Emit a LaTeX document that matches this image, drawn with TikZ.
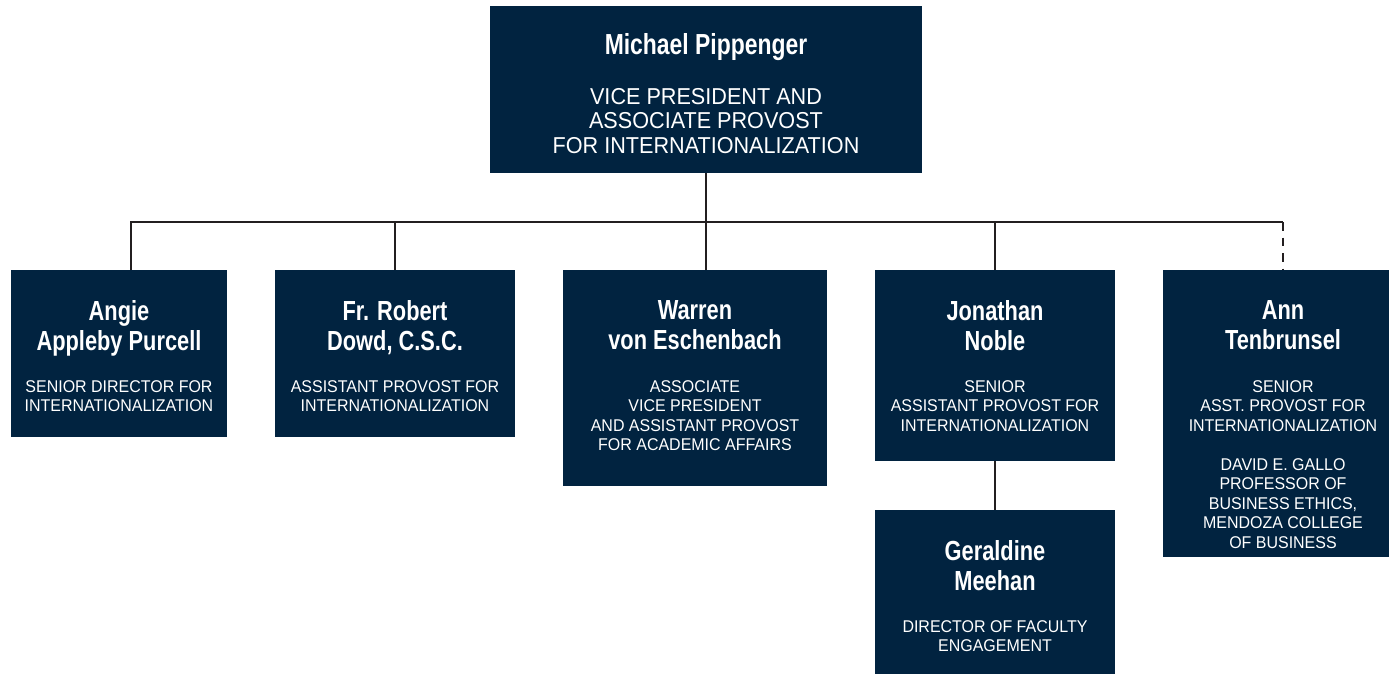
\documentclass[tikz,border=0pt]{standalone}
\usepackage{fontspec}
\setmainfont{Liberation Sans}
\newfontfamily\namefont[FakeStretch=0.79]{Liberation Sans Bold}
\newfontfamily\rolefont[FakeStretch=0.94]{Liberation Sans}
\usepackage{tikz}
\usetikzlibrary{positioning}
\definecolor{navy}{HTML}{012340}
\definecolor{wire}{HTML}{231F20}
\tikzstyle{box} = [rectangle, fill=navy, inner sep=0pt, outer sep=0pt, anchor=north west, minimum height=83.5pt]
\tikzstyle{nametext} = [anchor=north, inner sep=0pt, text=white, align=center, font=\namefont\fontsize{13.8pt}{15pt}\selectfont]
\tikzstyle{roletext} = [anchor=north, inner sep=0pt, text=white, align=center, font=\rolefont\fontsize{8.5pt}{9.7pt}\selectfont]
\tikzstyle{link} = [draw=wire, line width=1.2pt]

\begin{document}
\begin{tikzpicture}[x=0.5pt, y=-0.5pt, node distance=24pt]
    \useasboundingbox (0,0) rectangle (1389,675);
    \node (top) [box, minimum width=216pt] at (490,6) {};
    \node (angie) [box, minimum width=108pt] at (11,270) {};
    \node (robert) [box, minimum width=120pt, right=of angie.north east, anchor=north west] {};
    \node (warren) [box, minimum width=132pt, minimum height=108pt, right=of robert.north east, anchor=north west] {};
    \node (jonathan) [box, minimum width=120pt, minimum height=95.5pt, right=of warren.north east, anchor=north west] {};
    \node (ann) [box, minimum width=113pt, minimum height=143.5pt, right=of jonathan.north east, anchor=north west] {};
    \node (geraldine) [box, minimum width=120pt, minimum height=82pt, below=24.5pt of jonathan.south, anchor=north] {};
    \coordinate[below=24.5pt of top.south] (bus);
    \coordinate (annbus) at ([xshift=3.5pt]ann.north |- bus);

    \draw [link] (top) -- (bus);
    \draw [link] ([xshift=6pt]angie.north) |- (annbus);
    \draw [link] (robert) -- (robert.north |- bus);
    \draw [link] (warren.north -| bus) -- (bus);
    \draw [link] (jonathan) -- (jonathan.north |- bus);
    \draw [link, dash pattern=on 4.25pt off 3.5pt] (annbus) -- ([xshift=3.5pt]ann.north);
    \draw [link] (jonathan) -- (geraldine);

    \node (topname) [nametext, font=\namefont\fontsize{14.5pt}{16pt}\selectfont] at ([yshift=-13.5pt]top.north) {Michael Pippenger};
    \node (toprole) [roletext, font=\rolefont\fontsize{11.5pt}{12.25pt}\selectfont] at ([yshift=-41pt]top.north) {VICE PRESIDENT AND\\ASSOCIATE PROVOST\\FOR INTERNATIONALIZATION};
    \node (angiename) [nametext] at ([yshift=-15pt]angie.north) {Angie\\Appleby Purcell};
    \node (angierole) [roletext] at ([yshift=-55pt]angie.north) {SENIOR DIRECTOR FOR\\INTERNATIONALIZATION};
    \node (robertname) [nametext] at ([yshift=-15pt]robert.north) {Fr. Robert\\Dowd, C.S.C.};
    \node (robertrole) [roletext] at ([yshift=-55pt]robert.north) {ASSISTANT PROVOST FOR\\INTERNATIONALIZATION};
    \node (warrenname) [nametext] at ([yshift=-15pt]warren.north) {Warren\\von Eschenbach};
    \node (warrenrole) [roletext] at ([yshift=-55pt]warren.north) {ASSOCIATE\\VICE PRESIDENT\\AND ASSISTANT PROVOST\\FOR ACADEMIC AFFAIRS};
    \node (jonathanname) [nametext] at ([yshift=-15pt]jonathan.north) {Jonathan\\Noble};
    \node (jonathanrole) [roletext] at ([yshift=-55pt]jonathan.north) {SENIOR\\ASSISTANT PROVOST FOR\\INTERNATIONALIZATION};
    \node (annname) [nametext] at ([xshift=3.5pt, yshift=-15pt]ann.north) {Ann\\Tenbrunsel};
    \node (annrole) [roletext] at ([xshift=3.5pt, yshift=-55pt]ann.north) {SENIOR\\ASST. PROVOST FOR\\INTERNATIONALIZATION\\[10pt]DAVID E. GALLO\\PROFESSOR OF\\BUSINESS ETHICS,\\MENDOZA COLLEGE\\OF BUSINESS};
    \node (geraldinename) [nametext] at ([yshift=-15pt]geraldine.north) {Geraldine\\Meehan};
    \node (geraldinerole) [roletext] at ([yshift=-55pt]geraldine.north) {DIRECTOR OF FACULTY\\ENGAGEMENT};
\end{tikzpicture}
\end{document}
